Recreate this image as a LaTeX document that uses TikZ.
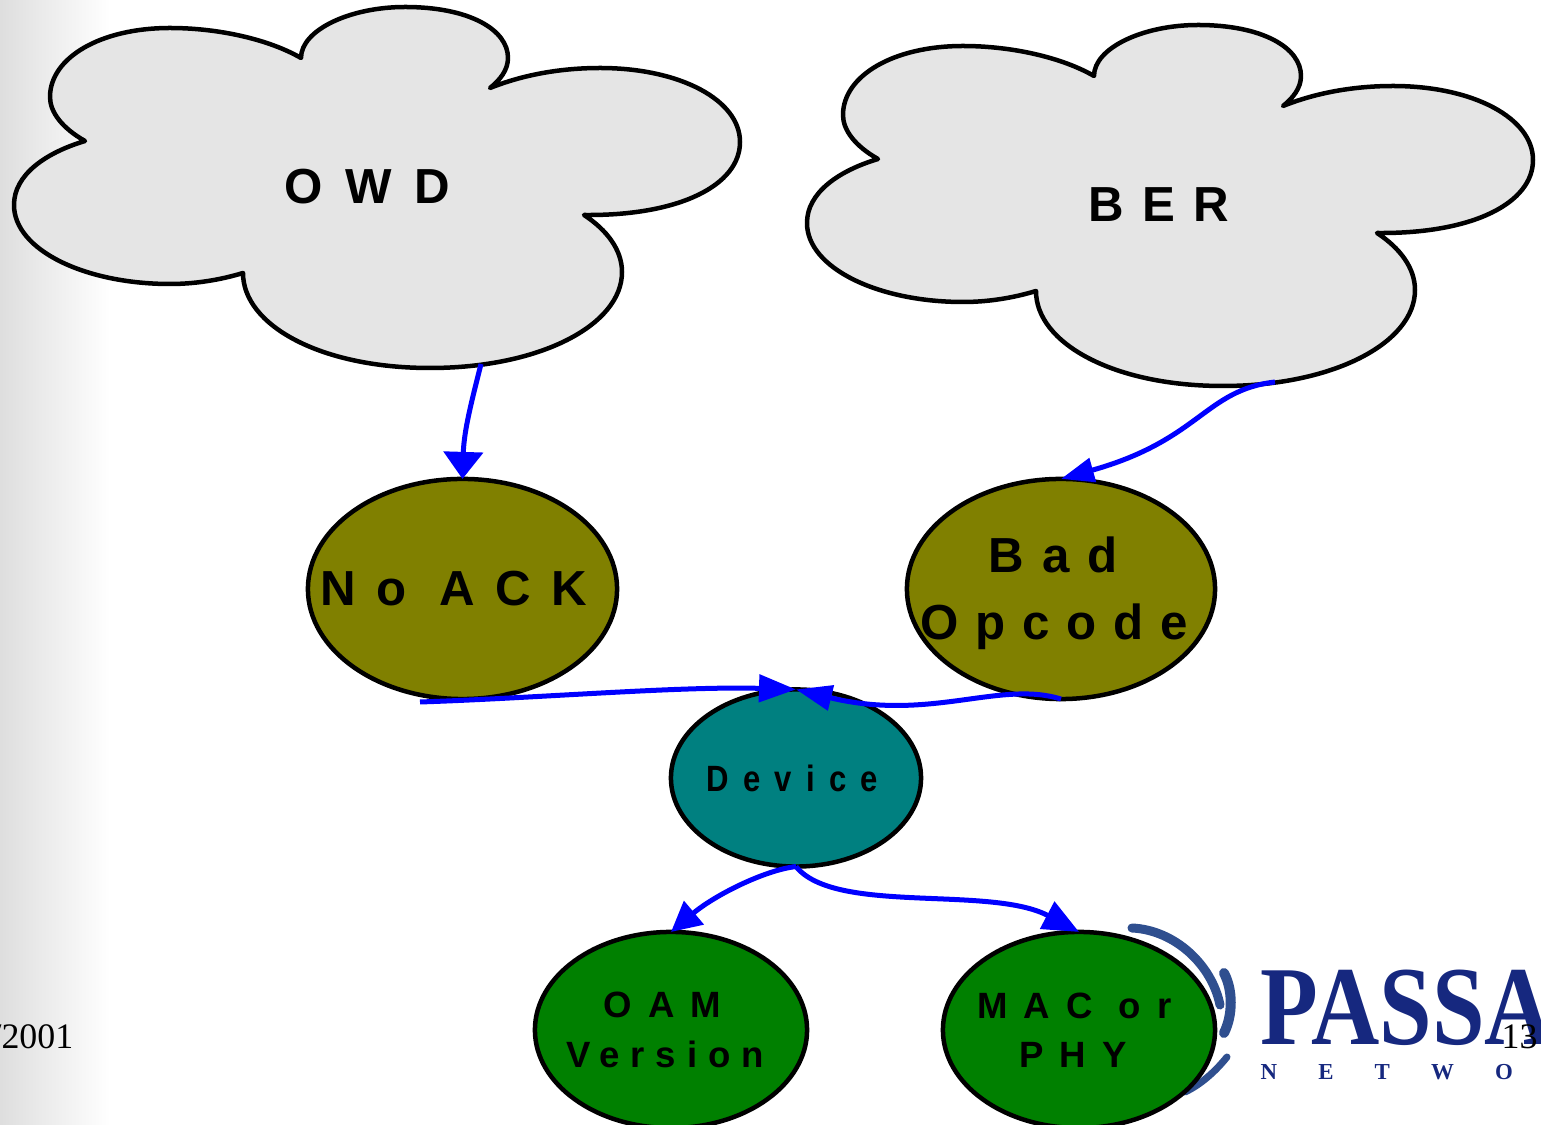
\documentclass[tikz,border=0pt]{standalone}
\usepackage{fontspec}
\usetikzlibrary{arrows.meta,shapes.geometric}
\setmainfont{Liberation Serif}
\newfontfamily\biglabel[LetterSpace=37,BoldFont={Liberation Sans Bold}]{Liberation Sans}
\newfontfamily\smalllabel[LetterSpace=44,BoldFont={Liberation Sans Bold}]{Liberation Sans}
\newfontfamily\devlabel[LetterSpace=39,FakeStretch=0.85,BoldFont={Liberation Sans Bold}]{Liberation Sans}
\newfontfamily\logofont[FakeStretch=0.84,BoldFont={Liberation Serif Bold}]{Liberation Serif}
\newfontfamily\logosmall[LetterSpace=180,BoldFont={Liberation Serif Bold}]{Liberation Serif}
\definecolor{cloudgray}{HTML}{E5E5E5}
\definecolor{nodeolive}{HTML}{808000}
\definecolor{nodeteal}{HTML}{008080}
\definecolor{nodegreen}{HTML}{008000}
\definecolor{logonavy}{HTML}{16287F}
\definecolor{logoarc}{HTML}{2F4F8F}
\tikzset{
  blob/.style={ellipse,draw=black,line width=.045cm,inner xsep=-2cm,inner ysep=-1cm,outer sep=0pt,align=center},
  biglab/.style={font=\biglabel\bfseries\fontsize{14}{19}\selectfont,text=black},
  smalllab/.style={font=\smalllabel\bfseries\fontsize{10.4}{14}\selectfont,text=black},
  link/.style 2 args={blue,line width=.05cm,-{Triangle[length=#1cm,width=#2cm]}},
  arcpart/.style={logoarc,line width=.08cm,line cap=round},
  cloudblob/.pic={
    \draw[fill=cloudgray,line width=.045cm,line join=round]
      (301,58) .. controls (301,30) and (350,7) .. (405,7)
      .. controls (470,7) and (508,30) .. (508,58)
      .. controls (508,70) and (500,80) .. (490,88)
      .. controls (530,72) and (570,68) .. (600,68)
      .. controls (680,68) and (740,100) .. (740,142)
      .. controls (740,185) and (680,216) .. (584,215)
      .. controls (607,230) and (622,250) .. (622,272)
      .. controls (622,325) and (540,368) .. (430,368)
      .. controls (320,368) and (243,325) .. (243,273)
      .. controls (220,280) and (195,284) .. (170,284)
      .. controls (85,284) and (14,250) .. (14,205)
      .. controls (14,175) and (45,153) .. (85,141)
      .. controls (62,128) and (50,112) .. (50,97)
      .. controls (50,58) and (100,28) .. (170,28)
      .. controls (220,28) and (270,40) .. (301,58) -- cycle;
  }
}

\begin{document}
\begin{tikzpicture}[x=.01cm,y=-.01cm]
\useasboundingbox (0,0) rectangle (1541,1125);
\clip (0,0) rectangle (1541,1125);
\shade[left color=black!13,right color=white,draw=none] (0,0) rectangle (110,1125);

\pic at (0,0) {cloudblob};
\pic at (793,18) {cloudblob};
\node[biglab] (owd) at (367,187) {\addfontfeature{LetterSpace=46}OWD};
\node[biglab] (ber) at (1159,205) {BER};
\coordinate (owdout) at (481,364);
\coordinate (berout) at (1275,382);

\draw[arcpart,line width=.09cm] (1132,928) .. controls (1175,930) and (1212,965) .. (1220,1005);
\draw[arcpart,line width=.1cm] (1224,973) .. controls (1233,990) and (1233,1015) .. (1224,1033);
\draw[arcpart,line width=.07cm] (1227,1057) .. controls (1215,1072) and (1200,1085) .. (1185,1092);
\node[font=\logofont\bfseries\fontsize{32}{32}\selectfont,text=logonavy,anchor=base west,inner sep=0pt] (passa) at (1260,1045) {PASSA};
\node[font=\logosmall\bfseries\fontsize{6.5}{6.5}\selectfont,text=logonavy,anchor=base west,inner sep=0pt] (netwo) at (1260,1080) {NETWO};

\node[font=\fontsize{10.2}{12}\selectfont,anchor=base east,inner sep=0pt] (date) at (74,1049) {/2001};
\node[font=\fontsize{10.2}{12}\selectfont,anchor=base west,inner sep=0pt] (page) at (1501,1049) {13};

\node[blob,fill=nodeolive,biglab,minimum width=3.09cm,minimum height=2.2cm] (noack) at (462.5,589) {\addfontfeature{LetterSpace=41}No ACK\kern5pt};
\node[blob,fill=nodeolive,biglab,minimum width=3.08cm,minimum height=2.2cm] (badop) at (1061,589) {\rule{0pt}{12.5pt}Bad\kern4.5pt\\\addfontfeature{LetterSpace=34}Opcode\kern4pt};
\node[blob,fill=nodeteal,minimum width=2.5cm,minimum height=1.77cm,font=\devlabel\bfseries\fontsize{10.4}{14}\selectfont] (device) at (796,778) {Device\kern2pt};
\node[blob,fill=nodegreen,smalllab,minimum width=2.72cm,minimum height=1.96cm] (oam) at (671,1030) {OAM\kern5pt\\\addfontfeature{LetterSpace=30}Version\kern3.4pt};
\node[blob,fill=nodegreen,smalllab,minimum width=2.72cm,minimum height=1.96cm] (mac) at (1079,1030) {MAC or\kern2.6pt\\PHY\kern3.4pt};
\coordinate (noackout) at (420,702);

\draw[link={.27}{.39}] (owdout) .. controls (472,400) and (464,430) .. (noack.north);
\draw[link={.33}{.24}] (berout) .. controls (1205,390) and (1200,440) .. (badop.north);
\draw[link={.37}{.27}] (noackout) .. controls (540,698) and (680,686) .. (device.north);
\draw[link={.36}{.25}] (badop.south) .. controls (1000,680) and (930,722) .. (device.north);
\draw[link={.3}{.3}] (device.south) .. controls (765,870) and (715,895) .. (oam.north);
\draw[link={.36}{.3}] (device.south) .. controls (835,915) and (990,885) .. (mac.north);
\end{tikzpicture}
\end{document}
